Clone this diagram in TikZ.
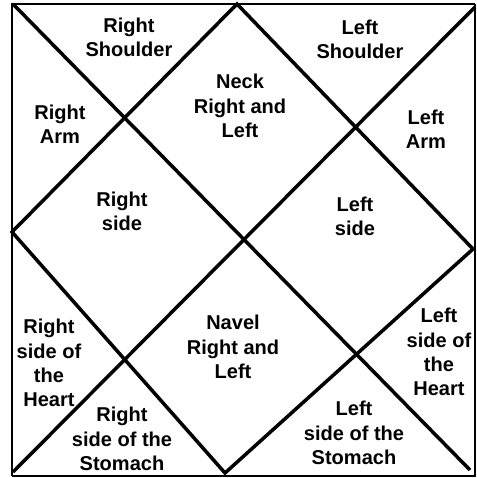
\documentclass[tikz,border=0pt]{standalone}
\usepackage{fontspec}
\setmainfont{Liberation Sans}
\usetikzlibrary{calc}

\tikzset{
  part/.style={align=center,inner sep=0pt,font=\bfseries\fontsize{11.4}{13.8}\selectfont},
  chartline/.style={line width=2pt}
}

\begin{document}
\begin{tikzpicture}[x=0.02cm,y=-0.02cm]
\useasboundingbox (0,0) rectangle (477,478);
% frame
\coordinate (TL) at (12,4); \coordinate (TR) at (475,4);
\coordinate (BR) at (475,476); \coordinate (BL) at (12,476);
\draw[line width=1.5pt] (BL)--(TL)--(TR);
\draw[line width=0.6pt] (TR)--(BR)--(BL);
% diagonals
\coordinate (D1) at (13,4); \coordinate (D2) at (470,470);
\coordinate (D3) at (475,7); \coordinate (D4) at (13,472);
\draw[chartline] (D1)--(D2);
\draw[chartline] (D3)--(D4);
% diamond
\coordinate (MT) at (237,4); \coordinate (MR) at (473,249);
\coordinate (MB) at (225,473); \coordinate (ML) at (12,232);
\draw[chartline,line join=miter] (MT)--(MR)--(MB)--(ML)--cycle;
% labels
\node[part] (rsh) at (129,37) {Right\\Shoulder};
\node[part] (lsh) at (360,39) {Left\\Shoulder};
\node[part] (neck) at (240,106) {Neck\\Right and\\Left};
\node[part] (rarm) at (60,124) {Right\\Arm};
\node[part] (larm) at (426,129) {Left\\Arm};
\node[part] (rside) at (122,211) {Right\\side};
\node[part] (lside) at (355,216) {Left\\side};
\node[part] (navel) at (233,347) {Navel\\Right and\\Left};
\node[part] (rheart) at (49,363) {Right\\side of\\the\\Heart};
\node[part] (lheart) at (439,352) {Left\\side of\\the\\Heart};
\node[part] (rstom) at (122,439) {Right\\side of the\\Stomach};
\node[part] (lstom) at (354,433) {Left\\side of the\\Stomach};
\end{tikzpicture}
\end{document}
